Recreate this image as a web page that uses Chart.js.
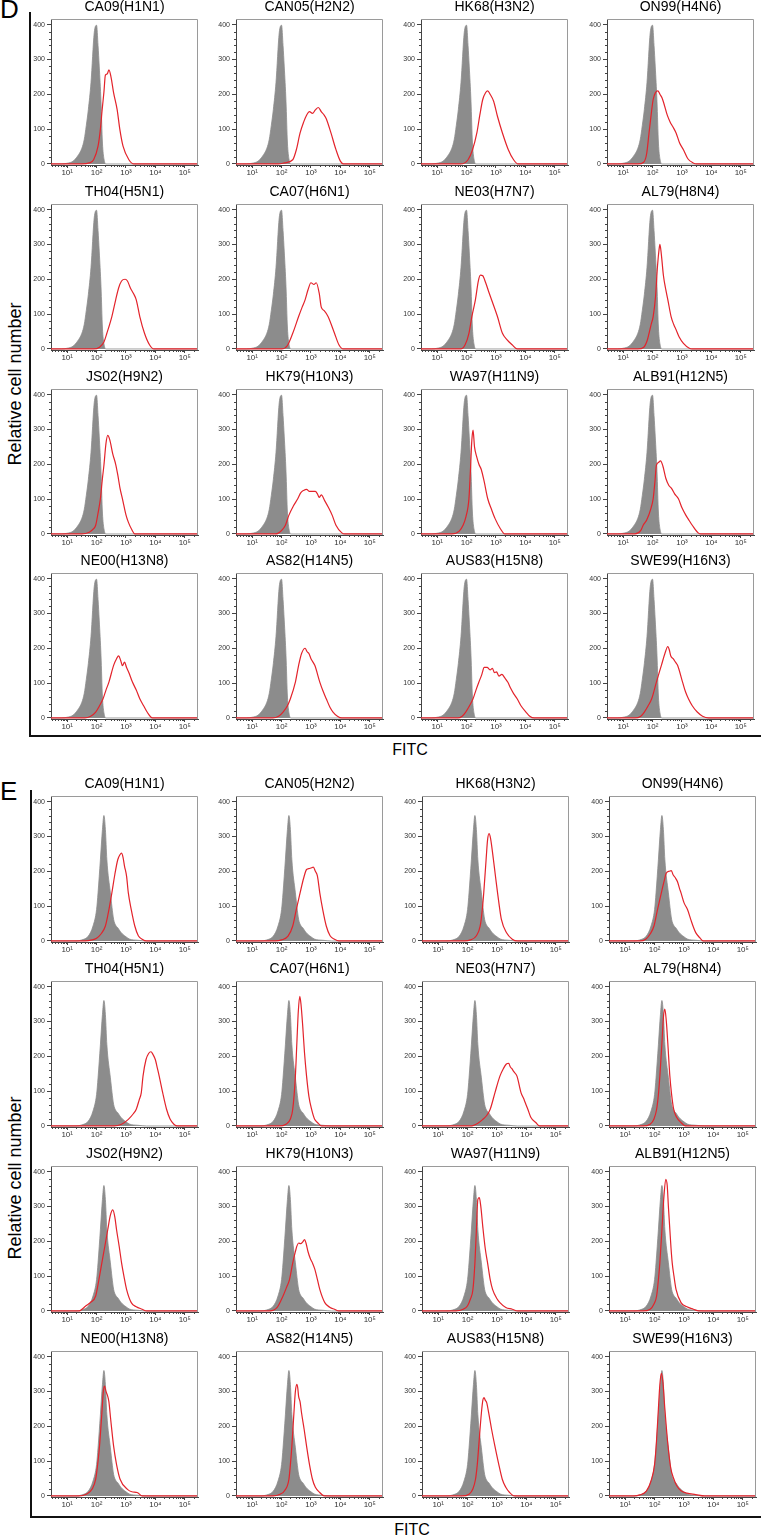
<!DOCTYPE html>
<html>
<head>
<meta charset="utf-8">
<script src="https://cdn.jsdelivr.net/npm/chart.js@4.4.1/dist/chart.umd.min.js"></script>
<style>
  body { margin: 0; background: #fff; width: 761px; height: 1537px; position: relative; overflow: hidden;
         font-family: 'Liberation Sans', Arial, sans-serif; color: #000; }
  canvas { position: absolute; }
  .letter { position: absolute; font-size: 26px; line-height: 1; }
  .rule { position: absolute; background: #111; }
  .ylab { position: absolute; font-size: 18px; white-space: nowrap; transform: translate(-50%, -50%) rotate(-90deg); }
  .xlab { position: absolute; font-size: 16px; white-space: nowrap; transform: translate(-50%, -50%); }
</style>
</head>
<body>
<div class="letter" style="left:0px;top:-4px">D</div>
<div class="letter" style="left:0px;top:778px">E</div>
<div class="rule" style="left:29px;top:12px;width:2px;height:725px"></div>
<div class="rule" style="left:29px;top:735px;width:732px;height:2px"></div>
<div class="rule" style="left:30px;top:790px;width:2px;height:728px"></div>
<div class="rule" style="left:30px;top:1516px;width:731px;height:2px"></div>
<div class="ylab" style="left:15px;top:384px">Relative cell number</div>
<div class="ylab" style="left:15px;top:1178px">Relative cell number</div>
<div class="xlab" style="left:410px;top:750px">FITC</div>
<div class="xlab" style="left:412px;top:1530px">FITC</div>

<script>
// axis ticks (x values are log10 of FITC intensity)
const xTicks = [1, 2, 3, 4, 5];
const xTickLabels = ['10¹', '10²', '10³', '10⁴', '10⁵'];
const yTicks = [0, 100, 200, 300, 400];

const panelNames = ['CA09(H1N1)', 'CAN05(H2N2)', 'HK68(H3N2)', 'ON99(H4N6)',
                    'TH04(H5N1)', 'CA07(H6N1)', 'NE03(H7N7)', 'AL79(H8N4)',
                    'JS02(H9N2)', 'HK79(H10N3)', 'WA97(H11N9)', 'ALB91(H12N5)',
                    'NE00(H13N8)', 'AS82(H14N5)', 'AUS83(H15N8)', 'SWE99(H16N3)'];

// grey control histograms, points are [log10 FITC, count]
const controlD = [[0.45,0],[0.8,0],[1.0,2],[1.2,8],[1.35,22],[1.5,45],[1.58,70],[1.65,110],[1.72,156],[1.81,233],
                  [1.92,376],[2.0,398],[2.05,340],[2.09,281],[2.15,180],[2.2,60],[2.25,15],[2.32,0],[5.45,0]];
const controlE = [[0.45,0],[1.3,0],[1.5,3],[1.72,14],[1.88,43],[2.0,90],[2.05,138],[2.13,233],[2.2,320],[2.25,360],
                  [2.3,320],[2.35,233],[2.47,138],[2.58,62],[2.65,45],[2.72,38],[2.8,28],[2.88,20],[3.0,12],[3.13,5],
                  [3.4,2],[3.7,0],[5.45,0]];

// red stained histograms, panel D
const stainedD = [
  [[0.45,0],[1.5,0],[1.75,3],[1.9,12],[2.05,51],[2.13,100],[2.19,156],[2.25,206],[2.3,255],[2.36,258],[2.42,270],[2.49,250],[2.58,204],[2.7,156],[2.79,100],[2.9,51],[3.1,12],[3.27,0],[5.45,0]],
  [[0.45,0],[1.9,0],[2.1,3],[2.38,12],[2.5,40],[2.63,89],[2.75,120],[2.85,140],[2.95,150],[3.05,145],[3.15,155],[3.25,162],[3.35,150],[3.45,140],[3.52,130],[3.68,89],[3.85,41],[4.0,8],[4.1,0],[5.45,0]],
  [[0.45,0],[1.8,0],[2.05,12],[2.2,40],[2.35,89],[2.45,140],[2.55,185],[2.65,205],[2.72,210],[2.8,200],[2.92,180],[3.05,137],[3.22,89],[3.42,41],[3.6,12],[3.75,0],[5.45,0]],
  [[0.45,0],[1.5,0],[1.7,5],[1.8,30],[1.88,89],[1.95,140],[2.02,185],[2.1,205],[2.18,210],[2.25,200],[2.32,190],[2.38,175],[2.5,140],[2.6,120],[2.68,108],[2.8,89],[2.92,60],[3.05,41],[3.2,15],[3.38,3],[3.5,0],[5.45,0]],
  [[0.45,0],[1.9,0],[2.1,5],[2.25,20],[2.35,45],[2.52,93],[2.65,141],[2.75,175],[2.85,195],[2.97,200],[3.05,195],[3.15,175],[3.25,160],[3.35,141],[3.47,93],[3.63,45],[3.8,12],[3.95,0],[5.45,0]],
  [[0.45,0],[2.0,0],[2.2,10],[2.38,45],[2.58,93],[2.7,120],[2.8,141],[2.9,170],[3.0,190],[3.1,185],[3.18,190],[3.28,160],[3.35,120],[3.45,110],[3.58,93],[3.8,45],[3.95,12],[4.1,0],[5.45,0]],
  [[0.45,0],[1.8,0],[1.95,12],[2.08,45],[2.18,93],[2.3,141],[2.4,195],[2.47,212],[2.55,210],[2.65,190],[2.75,165],[2.85,141],[3.05,93],[3.22,45],[3.38,26],[3.55,12],[3.72,0],[5.45,0]],
  [[0.45,0],[1.5,0],[1.7,5],[1.82,25],[1.88,45],[1.95,70],[2.02,93],[2.1,150],[2.17,240],[2.22,285],[2.25,300],[2.3,270],[2.37,210],[2.45,170],[2.52,141],[2.63,93],[2.72,70],[2.8,55],[2.9,35],[3.05,16],[3.25,2],[3.35,0],[5.45,0]],
  [[0.45,0],[1.5,0],[1.75,5],[1.9,15],[1.97,25],[2.05,60],[2.13,101],[2.2,160],[2.25,197],[2.32,260],[2.38,283],[2.45,270],[2.55,230],[2.65,200],[2.72,170],[2.8,130],[2.88,101],[3.0,55],[3.08,34],[3.2,12],[3.3,0],[5.45,0]],
  [[0.45,0],[1.8,0],[2.0,10],[2.13,25],[2.25,54],[2.4,80],[2.55,101],[2.65,118],[2.75,125],[2.85,128],[2.95,122],[3.05,122],[3.15,122],[3.22,115],[3.28,105],[3.35,112],[3.47,95],[3.6,75],[3.72,54],[3.85,25],[4.05,3],[4.15,0],[5.45,0]],
  [[0.45,0],[1.5,0],[1.75,8],[1.88,25],[1.98,50],[2.08,101],[2.13,180],[2.18,270],[2.22,298],[2.27,250],[2.35,220],[2.42,200],[2.5,185],[2.6,150],[2.72,101],[2.85,70],[2.97,44],[3.15,15],[3.3,0],[5.45,0]],
  [[0.45,0],[1.4,0],[1.6,10],[1.68,25],[1.8,40],[1.95,75],[2.02,101],[2.08,150],[2.13,197],[2.2,205],[2.27,210],[2.35,195],[2.45,160],[2.55,140],[2.65,130],[2.75,115],[2.88,101],[3.0,75],[3.13,54],[3.25,38],[3.35,25],[3.55,3],[3.65,0],[5.45,0]],
  [[0.45,0],[1.6,0],[1.8,5],[1.97,17],[2.1,35],[2.22,55],[2.32,80],[2.42,103],[2.58,151],[2.68,170],[2.75,178],[2.82,165],[2.88,150],[2.95,160],[3.02,145],[3.1,130],[3.22,103],[3.35,80],[3.47,55],[3.6,35],[3.72,17],[3.9,0],[5.45,0]],
  [[0.45,0],[1.7,0],[1.9,5],[2.05,17],[2.2,35],[2.3,55],[2.47,103],[2.58,151],[2.68,185],[2.8,200],[2.87,190],[2.93,185],[3.0,170],[3.13,151],[3.3,103],[3.42,75],[3.52,55],[3.65,30],[3.75,17],[3.9,5],[4.05,0],[5.45,0]],
  [[0.45,0],[1.7,0],[1.85,5],[1.97,17],[2.1,35],[2.22,55],[2.32,80],[2.42,103],[2.52,125],[2.6,145],[2.7,145],[2.8,138],[2.88,142],[2.95,130],[3.02,132],[3.1,120],[3.2,125],[3.3,115],[3.4,103],[3.5,85],[3.6,70],[3.72,55],[3.85,35],[4.02,17],[4.15,5],[4.3,0],[5.45,0]],
  [[0.45,0],[1.4,0],[1.6,5],[1.72,17],[1.85,35],[1.97,55],[2.13,103],[2.3,151],[2.42,185],[2.52,205],[2.57,195],[2.62,178],[2.7,170],[2.78,160],[2.85,151],[3.02,103],[3.12,75],[3.22,55],[3.35,35],[3.52,17],[3.7,5],[3.9,0],[5.45,0]]
];

// red stained histograms, panel E
const stainedE = [
  [[0.45,0],[1.6,0],[1.85,3],[2.0,8],[2.15,20],[2.3,43],[2.42,90],[2.52,138],[2.62,190],[2.72,233],[2.8,248],[2.85,252],[2.9,240],[2.95,215],[3.02,186],[3.08,138],[3.18,90],[3.3,43],[3.42,15],[3.55,5],[3.7,0],[5.45,0]],
  [[0.45,0],[1.8,0],[2.0,3],[2.22,14],[2.38,43],[2.5,90],[2.63,138],[2.75,180],[2.85,205],[2.95,208],[3.02,210],[3.08,212],[3.15,200],[3.22,186],[3.3,138],[3.4,90],[3.52,43],[3.65,15],[3.8,5],[3.95,0],[5.45,0]],
  [[0.45,0],[1.9,0],[2.1,3],[2.3,15],[2.43,43],[2.5,90],[2.55,138],[2.63,233],[2.68,290],[2.73,308],[2.78,295],[2.88,233],[2.95,185],[3.02,138],[3.08,100],[3.15,62],[3.32,24],[3.52,5],[3.7,0],[5.45,0]],
  [[0.45,0],[1.5,0],[1.7,5],[1.85,20],[1.98,43],[2.1,90],[2.23,138],[2.32,170],[2.4,195],[2.5,200],[2.57,202],[2.63,190],[2.7,182],[2.78,170],[2.85,150],[2.9,138],[3.0,110],[3.12,90],[3.23,62],[3.32,40],[3.4,24],[3.55,8],[3.65,0],[5.45,0]],
  [[0.45,0],[2.6,0],[2.85,5],[3.08,19],[3.25,35],[3.35,48],[3.45,75],[3.52,95],[3.58,143],[3.68,190],[3.77,208],[3.85,213],[3.92,205],[4.0,190],[4.07,165],[4.13,143],[4.25,95],[4.38,48],[4.5,20],[4.63,5],[4.75,0],[5.45,0]],
  [[0.45,0],[1.9,0],[2.15,5],[2.3,20],[2.38,48],[2.47,143],[2.52,238],[2.57,330],[2.62,372],[2.66,350],[2.72,286],[2.78,210],[2.85,143],[2.93,85],[3.02,48],[3.12,20],[3.22,10],[3.35,0],[5.45,0]],
  [[0.45,0],[2.1,0],[2.35,8],[2.52,19],[2.65,30],[2.77,48],[2.93,95],[3.1,143],[3.22,165],[3.32,178],[3.4,180],[3.45,170],[3.5,165],[3.58,155],[3.68,143],[3.82,95],[3.9,80],[3.97,65],[4.05,48],[4.15,25],[4.32,10],[4.45,0],[5.45,0]],
  [[0.45,0],[1.6,0],[1.85,5],[1.98,20],[2.07,48],[2.13,90],[2.18,143],[2.25,238],[2.3,310],[2.35,335],[2.4,300],[2.45,238],[2.52,143],[2.58,90],[2.65,48],[2.75,25],[2.9,10],[3.05,0],[5.45,0]],
  [[0.45,0],[1.4,0],[1.63,14],[1.8,25],[1.97,43],[2.08,90],[2.18,138],[2.28,185],[2.38,233],[2.47,275],[2.55,290],[2.62,270],[2.68,233],[2.77,185],[2.85,138],[2.93,100],[3.02,62],[3.18,24],[3.35,12],[3.55,5],[3.7,0],[5.45,0]],
  [[0.45,0],[1.6,0],[1.85,10],[2.05,43],[2.18,70],[2.27,90],[2.38,138],[2.47,170],[2.52,186],[2.58,195],[2.65,193],[2.72,198],[2.78,205],[2.83,195],[2.9,170],[2.98,150],[3.05,138],[3.13,120],[3.22,90],[3.3,62],[3.47,24],[3.65,10],[3.8,5],[3.95,0],[5.45,0]],
  [[0.45,0],[1.6,0],[1.85,5],[2.0,15],[2.1,35],[2.18,60],[2.25,138],[2.3,233],[2.35,320],[2.4,325],[2.45,300],[2.52,240],[2.6,180],[2.68,138],[2.77,90],[2.85,62],[3.0,35],[3.1,24],[3.3,10],[3.52,5],[3.7,0],[5.45,0]],
  [[0.45,0],[1.6,0],[1.85,5],[1.98,20],[2.07,43],[2.13,90],[2.18,138],[2.25,233],[2.32,330],[2.38,378],[2.43,360],[2.47,300],[2.52,233],[2.56,180],[2.6,138],[2.66,100],[2.73,62],[2.9,24],[3.1,12],[3.32,5],[3.5,0],[5.45,0]],
  [[0.45,0],[1.4,0],[1.65,5],[1.85,20],[1.97,48],[2.05,100],[2.1,143],[2.18,238],[2.23,300],[2.27,315],[2.32,300],[2.38,286],[2.42,270],[2.48,220],[2.58,143],[2.68,90],[2.8,48],[3.05,19],[3.2,12],[3.38,10],[3.55,0],[5.45,0]],
  [[0.45,0],[1.7,0],[1.95,5],[2.1,15],[2.25,48],[2.3,90],[2.35,143],[2.42,238],[2.47,300],[2.52,320],[2.55,310],[2.58,286],[2.63,270],[2.68,238],[2.77,190],[2.85,143],[2.95,90],[3.05,48],[3.15,25],[3.3,10],[3.45,0],[5.45,0]],
  [[0.45,0],[1.8,0],[2.05,5],[2.18,20],[2.27,48],[2.33,90],[2.38,143],[2.47,238],[2.52,275],[2.56,282],[2.6,275],[2.65,268],[2.72,238],[2.82,190],[2.93,143],[3.05,95],[3.18,48],[3.3,25],[3.43,10],[3.6,0],[5.45,0]],
  [[0.45,0],[1.3,0],[1.5,3],[1.72,14],[1.88,43],[2.0,90],[2.06,150],[2.13,250],[2.18,320],[2.23,352],[2.28,330],[2.35,250],[2.45,150],[2.55,80],[2.65,50],[2.75,30],[2.9,15],[3.1,8],[3.4,4],[3.7,0],[5.45,0]]
];

Chart.defaults.font.family = "'Liberation Sans', Arial, sans-serif";

const PLOT_W = 147, PLOT_H = 146;
const PAD_L = 40, PAD_T = 22, PAD_B = 20, PAD_R = 4;
const groups = [
  { control: controlD, stained: stainedD, lefts: [51, 236, 421, 607], tops: [19, 204, 389, 573] },
  { control: controlE, stained: stainedE, lefts: [51, 236, 422, 609], tops: [796, 981, 1166, 1351] }
];

// frame box plus minor ticks on both axes
const frameTicks = {
  id: 'frameTicks',
  afterDraw(chart) {
    const ctx = chart.ctx, a = chart.chartArea, x = chart.scales.x, y = chart.scales.y;
    ctx.save();
    ctx.lineWidth = 1;
    ctx.strokeStyle = '#9a9a9a';
    ctx.beginPath();
    ctx.moveTo(a.left, a.top + 0.5);
    ctx.lineTo(a.right - 0.5, a.top + 0.5);
    ctx.lineTo(a.right - 0.5, a.bottom);
    ctx.stroke();
    ctx.strokeStyle = '#444';
    ctx.beginPath();
    for (let k = 0; k <= 5; k++) {
      for (let m = 2; m <= 9; m++) {
        const v = k + Math.log10(m);
        if (v < x.min || v > x.max) continue;
        const px = Math.round(x.getPixelForValue(v)) + 0.5;
        ctx.moveTo(px, a.bottom);
        ctx.lineTo(px, a.bottom + 2);
      }
    }
    for (let v = 20; v < y.max; v += 20) {
      if (v % 100 === 0) continue;
      const py = Math.round(y.getPixelForValue(v)) + 0.5;
      ctx.moveTo(a.left, py);
      ctx.lineTo(a.left - 2, py);
    }
    ctx.stroke();
    ctx.restore();
  }
};

function toXY(pts) {
  return pts.map(function (p) { return { x: p[0], y: p[1] }; });
}

groups.forEach(function (g) {
  for (let i = 0; i < 16; i++) {
    const row = Math.floor(i / 4), col = i % 4;
    const canvas = document.createElement('canvas');
    canvas.width = PAD_L + PLOT_W + PAD_R;
    canvas.height = PAD_T + PLOT_H + PAD_B;
    canvas.style.left = (g.lefts[col] - PAD_L) + 'px';
    canvas.style.top = (g.tops[row] - PAD_T) + 'px';
    document.body.appendChild(canvas);

    new Chart(canvas.getContext('2d'), {
      type: 'line',
      data: {
        datasets: [
          { // red stained line, drawn on top
            data: toXY(g.stained[i]),
            borderColor: '#e3232b', borderWidth: 1.2,
            pointRadius: 0, fill: false, cubicInterpolationMode: 'monotone'
          },
          { // grey control, filled
            data: toXY(g.control),
            borderColor: '#8c8c8c', backgroundColor: '#8c8c8c', borderWidth: 0.8,
            pointRadius: 0, fill: 'origin', cubicInterpolationMode: 'monotone'
          }
        ]
      },
      options: {
        responsive: false,
        animation: false,
        events: [],
        layout: { padding: { left: 0, right: PAD_R, top: 0, bottom: 0 } },
        plugins: {
          legend: { display: false },
          tooltip: { enabled: false },
          title: {
            display: true, fullSize: false, text: panelNames[i], color: '#000',
            font: { size: 14, weight: 'normal' }, padding: { top: 2, bottom: 3.2 }
          }
        },
        scales: {
          x: {
            type: 'linear', min: 0.45, max: 5.45,
            afterBuildTicks: function (s) { s.ticks = xTicks.map(function (v) { return { value: v }; }); },
            afterFit: function (s) { s.height = PAD_B; },
            ticks: {
              autoSkip: false, maxRotation: 0, padding: 0, color: '#333', font: { size: 8 },
              callback: function (v) { return xTickLabels[xTicks.indexOf(v)]; }
            },
            grid: { drawOnChartArea: false, drawTicks: true, tickLength: 3, color: '#444' },
            border: { color: '#444', width: 1 }
          },
          y: {
            min: -3, max: 416,
            afterBuildTicks: function (s) { s.ticks = yTicks.map(function (v) { return { value: v }; }); },
            afterFit: function (s) { s.width = PAD_L; },
            ticks: { padding: 2, color: '#333', font: { size: 7 } },
            grid: { drawOnChartArea: false, drawTicks: true, tickLength: 4, color: '#444' },
            border: { color: '#444', width: 1 }
          }
        }
      },
      plugins: [frameTicks]
    });
  }
});
</script>
</body>
</html>
